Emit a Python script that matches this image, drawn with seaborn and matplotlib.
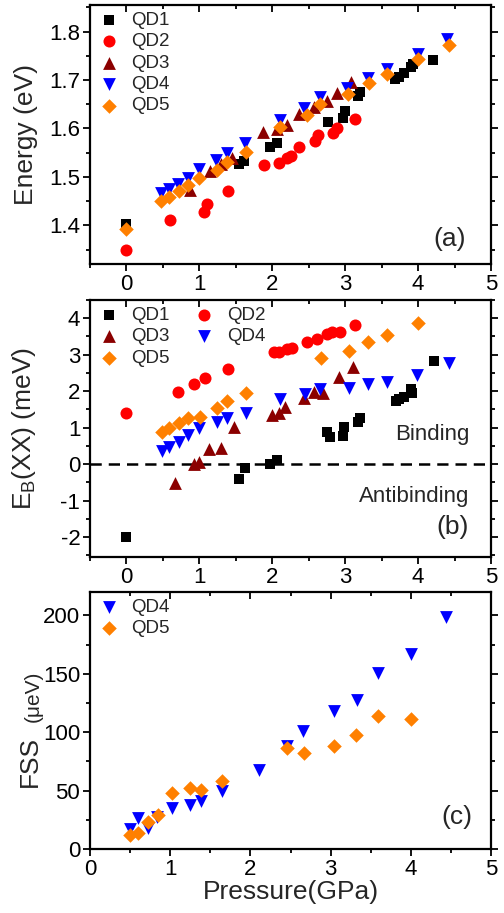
import matplotlib
matplotlib.use("Agg")
import matplotlib.pyplot as plt
import seaborn as sns
from matplotlib.ticker import MultipleLocator

# ---- panel (a): exciton energy (eV) vs pressure (GPa)
qd1_p_a = [0, 1.54, 1.61, 1.97, 2.07, 2.77, 2.97, 3.0, 3.18, 3.2, 3.69, 3.74, 3.81, 3.9, 3.93, 4.21]
qd1_e_a = [1.403, 1.526, 1.533, 1.562, 1.569, 1.614, 1.622, 1.636, 1.667, 1.676, 1.703, 1.706, 1.715, 1.726, 1.733, 1.741]
qd2_p_a = [0, 0.60, 1.06, 1.10, 1.39, 1.89, 2.09, 2.2, 2.26, 2.37, 2.58, 2.63, 2.83, 2.89, 3.14]
qd2_e_a = [1.350, 1.411, 1.428, 1.445, 1.470, 1.525, 1.528, 1.540, 1.543, 1.562, 1.574, 1.587, 1.591, 1.600, 1.619]
qd3_p_a = [0.87, 1.15, 1.29, 1.45, 1.87, 2.06, 2.2, 2.36, 2.57, 2.75, 2.89, 3.08]
qd3_e_a = [1.472, 1.512, 1.526, 1.540, 1.593, 1.598, 1.607, 1.629, 1.644, 1.657, 1.674, 1.695]
qd4_p_a = [0.48, 0.58, 0.71, 0.84, 0.99, 1.23, 1.38, 1.63, 2.10, 2.43, 2.65, 3.02, 3.31, 3.57, 4.0, 4.39]
qd4_e_a = [1.467, 1.476, 1.486, 1.498, 1.516, 1.534, 1.550, 1.569, 1.618, 1.642, 1.664, 1.683, 1.704, 1.722, 1.753, 1.784]
qd5_p_a = [0, 0.48, 0.59, 0.72, 0.84, 1.0, 1.24, 1.38, 1.64, 2.10, 2.47, 2.65, 3.04, 3.32, 3.58, 4.0, 4.42]
qd5_e_a = [1.393, 1.450, 1.459, 1.470, 1.483, 1.497, 1.514, 1.531, 1.552, 1.604, 1.628, 1.650, 1.671, 1.693, 1.713, 1.743, 1.772]

# ---- panel (b): biexciton binding energy (meV)
qd1_p_b = [0, 1.54, 1.62, 1.97, 2.07, 2.75, 2.79, 2.97, 2.98, 3.17, 3.2, 3.70, 3.74, 3.81, 3.9, 3.92, 4.22]
qd1_eb_b = [-2.01, -0.41, -0.10, -0.01, 0.11, 0.87, 0.75, 0.77, 1.03, 1.16, 1.25, 1.74, 1.78, 1.85, 2.05, 1.95, 2.83]
qd2_p_b = [0, 0.70, 0.92, 1.08, 1.39, 2.02, 2.09, 2.2, 2.27, 2.47, 2.61, 2.75, 2.82, 2.93, 3.14]
qd2_eb_b = [1.39, 1.99, 2.19, 2.35, 2.61, 3.08, 3.07, 3.15, 3.19, 3.36, 3.43, 3.56, 3.62, 3.63, 3.82]
qd3_p_b = [0.67, 0.92, 0.99, 1.13, 1.29, 1.48, 2.0, 2.09, 2.18, 2.44, 2.57, 2.7, 2.91, 3.11]
qd3_eb_b = [-0.51, 0.0, 0.05, 0.40, 0.45, 1.03, 1.35, 1.39, 1.56, 1.82, 1.99, 1.94, 2.40, 2.67]
qd4_p_b = [0.49, 0.59, 0.72, 0.84, 1.0, 1.24, 1.38, 1.64, 2.10, 2.45, 2.66, 3.05, 3.31, 3.57, 3.99, 4.42]
qd4_eb_b = [0.37, 0.48, 0.61, 0.81, 0.98, 1.15, 1.25, 1.39, 1.78, 1.92, 2.05, 2.08, 2.19, 2.26, 2.44, 2.78]
qd5_p_b = [0.49, 0.59, 0.72, 0.84, 1.01, 1.24, 1.38, 1.64, 2.67, 3.05, 3.31, 3.57, 4.0]
qd5_eb_b = [0.89, 0.98, 1.12, 1.25, 1.28, 1.55, 1.73, 1.96, 2.90, 3.11, 3.34, 3.54, 3.88]

# ---- panel (c): fine structure splitting (ueV)
qd4_p_c = [0.50, 0.60, 0.72, 0.84, 1.02, 1.25, 1.39, 1.65, 2.11, 2.46, 2.66, 3.04, 3.33, 3.59, 4.0, 4.44]
qd4_fss_c = [17.5, 26.6, 18.0, 27.5, 34.7, 37.5, 41.3, 49.6, 67.6, 88, 100.6, 117.8, 127.8, 150.7, 166.5, 198.6]
qd5_p_c = [0.50, 0.60, 0.72, 0.85, 1.02, 1.25, 1.39, 1.65, 2.46, 2.67, 3.04, 3.32, 3.59, 4.0]
qd5_fss_c = [11.7, 13.8, 23.2, 28.9, 47.6, 51.9, 50.4, 58.2, 86.8, 82.0, 88.3, 97.7, 113.5, 111.2]

styles = {
    "QD1": dict(marker="s", color="#000000", s=60),
    "QD2": dict(marker="o", color="#ff0000", s=75),
    "QD3": dict(marker="^", color="#8b0000", s=85),
    "QD4": dict(marker="v", color="#0000ff", s=85),
    "QD5": dict(marker="D", color="#ff8000", s=55),
}

sns.set_style("ticks")
plt.rcParams["font.family"] = ["Liberation Sans", "DejaVu Sans"]
plt.rcParams["mathtext.fontset"] = "custom"
plt.rcParams["mathtext.rm"] = "Liberation Sans"
plt.rcParams["mathtext.it"] = "Liberation Sans:italic"
plt.rcParams["axes.unicode_minus"] = False

leg_kw = dict(loc="upper left", frameon=False, fontsize=13.5, handletextpad=0.55,
              labelspacing=0.23, borderaxespad=0.15, handlelength=1.3, borderpad=0.2)


def draw(ax, series):
    for name, x, y in series:
        st = styles[name]
        sns.scatterplot(x=x, y=y, ax=ax, marker=st["marker"], color=st["color"],
                        s=st["s"], linewidth=0, label=name, zorder=3)


def style_axis(ax, xlim, ylim, ymaj, ymin):
    ax.set_xlim(*xlim)
    ax.set_ylim(*ylim)
    ax.xaxis.set_major_locator(MultipleLocator(1))
    ax.xaxis.set_minor_locator(MultipleLocator(0.5))
    ax.yaxis.set_major_locator(MultipleLocator(ymaj))
    ax.yaxis.set_minor_locator(MultipleLocator(ymin))
    for sp in ax.spines.values():
        sp.set_visible(True)
        sp.set_linewidth(1.6)
        sp.set_color("black")
    ax.tick_params(which="both", bottom=True, left=True, top=True, right=True,
                   direction="out", labelsize=16, width=1.3, color="black",
                   labelcolor="black", pad=2)
    ax.tick_params(which="major", length=5)
    ax.tick_params(which="minor", length=3)
    # top ticks point inward
    for t in ax.xaxis.get_ticklines(minor=False)[1::2] + ax.xaxis.get_ticklines(minor=True)[1::2]:
        t.set_marker(3)
    ax.set_xlabel("")
    ax.set_ylabel("")


fig = plt.figure(figsize=(5.04, 9.13), dpi=100)
ax_a = fig.add_axes([0.1786, 0.7108, 0.7956, 0.2837])
ax_b = fig.add_axes([0.1786, 0.3899, 0.7956, 0.2815])
ax_c = fig.add_axes([0.1786, 0.0701, 0.7956, 0.2815])

# (a)
draw(ax_a, [("QD1", qd1_p_a, qd1_e_a), ("QD2", qd2_p_a, qd2_e_a), ("QD3", qd3_p_a, qd3_e_a),
            ("QD4", qd4_p_a, qd4_e_a), ("QD5", qd5_p_a, qd5_e_a)])
style_axis(ax_a, (-0.5, 5), (1.32, 1.855), 0.1, 0.05)
ax_a.set_ylabel("Energy (eV)", fontsize=19)
ax_a.text(4.66, 1.372, "(a)", fontsize=19, ha="right", va="center")
ax_a.legend(**leg_kw)

# (b)
draw(ax_b, [("QD1", qd1_p_b, qd1_eb_b), ("QD2", qd2_p_b, qd2_eb_b), ("QD3", qd3_p_b, qd3_eb_b),
            ("QD4", qd4_p_b, qd4_eb_b), ("QD5", qd5_p_b, qd5_eb_b)])
style_axis(ax_b, (-0.5, 5), (-2.55, 4.5), 1, 0.5)
ax_b.axhline(0, color="black", linestyle=(0, (4.5, 2.8)), linewidth=1.8, zorder=2)
ax_b.set_ylabel(r"E$_\mathregular{B}$(XX) (meV)", fontsize=19)
ax_b.text(4.7, 0.8, "Binding", fontsize=16, ha="right", va="center")
ax_b.text(4.7, -0.9, "Antibinding", fontsize=16, ha="right", va="center")
ax_b.text(4.7, -1.72, "(b)", fontsize=19, ha="right", va="center")
h, l = ax_b.get_legend_handles_labels()
order = [0, 2, 4, 1, 3]
ax_b.legend([h[i] for i in order], [l[i] for i in order], ncol=2, columnspacing=1.2, **leg_kw)

# (c)
draw(ax_c, [("QD4", qd4_p_c, qd4_fss_c), ("QD5", qd5_p_c, qd5_fss_c)])
style_axis(ax_c, (0, 5), (0, 220), 50, 25)
ax_c.set_ylabel("FSS", fontsize=19)
ax_c.yaxis.set_label_coords(-0.132, 0.339)
ax_c.yaxis.label.set_verticalalignment("baseline")
ax_c.text(-0.128, 0.595, "(\u03bceV)", transform=ax_c.transAxes, rotation=90,
          rotation_mode="anchor", fontsize=15, ha="center", va="baseline")
ax_c.set_xlabel("Pressure(GPa)", fontsize=19, labelpad=0)
ax_c.text(4.77, 27, "(c)", fontsize=19, ha="right", va="center")
ax_c.legend(**leg_kw)

for ax in (ax_a, ax_b):
    ax.yaxis.set_label_coords(-0.13, 0.5)

fig.savefig("out.png", dpi=100)
plt.close(fig)
